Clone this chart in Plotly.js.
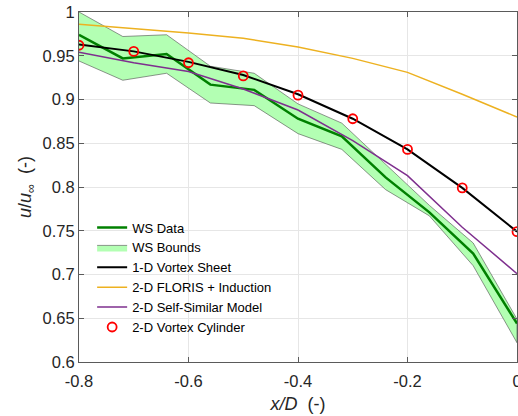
<!DOCTYPE html>
<html>
<head>
<meta charset="utf-8">
<script src="https://cdn.plot.ly/plotly-3.0.1.min.js"></script>
<style>html,body{margin:0;padding:0;background:#fff;}#chart{width:518px;height:416px;}</style>
</head>
<body>
<div id="chart"></div>
<script>
// WS measurement data (x/D spacing 0.08)
const wsX     = [-0.80, -0.72, -0.64, -0.56, -0.48, -0.40, -0.32, -0.24, -0.16, -0.08, 0.00];
const wsData  = [0.974, 0.947, 0.952, 0.917, 0.911, 0.878, 0.858, 0.811, 0.771, 0.724, 0.644];
const wsUpper = [1.000, 0.972, 0.974, 0.938, 0.930, 0.895, 0.873, 0.826, 0.779, 0.736, 0.649];
const wsLower = [0.944, 0.922, 0.930, 0.896, 0.893, 0.861, 0.843, 0.797, 0.767, 0.710, 0.622];

// Model curves (x/D spacing 0.1)
const modelX      = [-0.8, -0.7, -0.6, -0.5, -0.4, -0.3, -0.2, -0.1, 0.0];
const vortexSheet = [0.963, 0.955, 0.943, 0.928, 0.906, 0.878, 0.843, 0.799, 0.749];
const floris      = [0.986, 0.981, 0.976, 0.970, 0.960, 0.947, 0.931, 0.906, 0.880];
const selfSimilar = [0.954, 0.942, 0.932, 0.912, 0.888, 0.853, 0.813, 0.754, 0.701];
const cylinder    = [0.962, 0.955, 0.942, 0.927, 0.905, 0.878, 0.843, 0.799, 0.749];

// Tick labels
const xTickVals = [-0.8, -0.6, -0.4, -0.2, 0];
const xTickText = ["-0.8", "-0.6", "-0.4", "-0.2", "0"];
const yTickVals = [0.6, 0.65, 0.7, 0.75, 0.8, 0.85, 0.9, 0.95, 1];
const yTickText = ["0.6", "0.65", "0.7", "0.75", "0.8", "0.85", "0.9", "0.95", "1"];

const bandX = wsX.concat(wsX.slice().reverse());
const bandY = wsUpper.concat(wsLower.slice().reverse());

const traces = [
  {x: bandX, y: bandY, type: 'scatter', mode: 'lines', fill: 'toself',
   fillcolor: '#b3ffb3', line: {color: '#4d4d4d', width: 0.6}, name: 'WS Bounds', legendrank: 2},
  {x: wsX, y: wsData, type: 'scatter', mode: 'lines',
   line: {color: '#008000', width: 2.5}, name: 'WS Data', legendrank: 1},
  {x: modelX, y: vortexSheet, type: 'scatter', mode: 'lines', line: {color: '#000000', width: 2}, name: '1-D Vortex Sheet', legendrank: 3},
  {x: modelX, y: floris, type: 'scatter', mode: 'lines', line: {color: '#EDB120', width: 1.5}, name: '2-D FLORIS + Induction', legendrank: 4},
  {x: modelX, y: selfSimilar, type: 'scatter', mode: 'lines', line: {color: '#7E2F8E', width: 1.5}, name: '2-D Self-Similar Model', legendrank: 5},
  {x: modelX, y: cylinder, type: 'scatter', mode: 'markers',
   marker: {symbol: 'circle-open', size: 9, color: '#ff0000', line: {width: 1.8, color: '#ff0000'}},
   name: '2-D Vortex Cylinder', legendrank: 6}
];

const axisCommon = {
  showline: true, linecolor: '#5a5a5a', linewidth: 1, mirror: 'allticks',
  ticks: 'inside', ticklen: 5, tickcolor: '#5a5a5a', tickwidth: 1,
  showgrid: true, gridcolor: '#e6e6e6', gridwidth: 1, zeroline: false,
  ticklabeloverflow: 'allow',
  tickfont: {family: 'Liberation Sans, Arial, sans-serif', size: 16.5, color: '#262626'}
};

const layout = {
  width: 518, height: 416,
  margin: {l: 79, r: 1, t: 12, b: 54},
  paper_bgcolor: '#ffffff', plot_bgcolor: '#ffffff',
  showlegend: true,
  legend: {x: 0.03, y: 0.427, xanchor: 'left', yanchor: 'top', bgcolor: 'rgba(255,255,255,0)',
           borderwidth: 0, font: {family: 'Liberation Sans, Arial, sans-serif', size: 13, color: '#000'},
           tracegroupgap: 0},
  xaxis: Object.assign({}, axisCommon, {
    range: [-0.8, 0], tickmode: 'array', tickvals: xTickVals, ticktext: xTickText,
    ticklabelstandoff: 4,
    title: {text: '<i>x/D</i>  (-)', font: {family: 'Liberation Sans, Arial, sans-serif', size: 18, color: '#262626'}, standoff: 8}
  }),
  yaxis: Object.assign({}, axisCommon, {
    range: [0.6, 1], tickmode: 'array', tickvals: yTickVals, ticktext: yTickText,
    title: {text: '<i>u</i>/<i>u</i><sub>∞</sub>  (-)', font: {family: 'Liberation Sans, Arial, sans-serif', size: 18, color: '#262626'}, standoff: 6}
  })
};

Plotly.newPlot('chart', traces, layout, {displayModeBar: false, staticPlot: true});
</script>
</body>
</html>
